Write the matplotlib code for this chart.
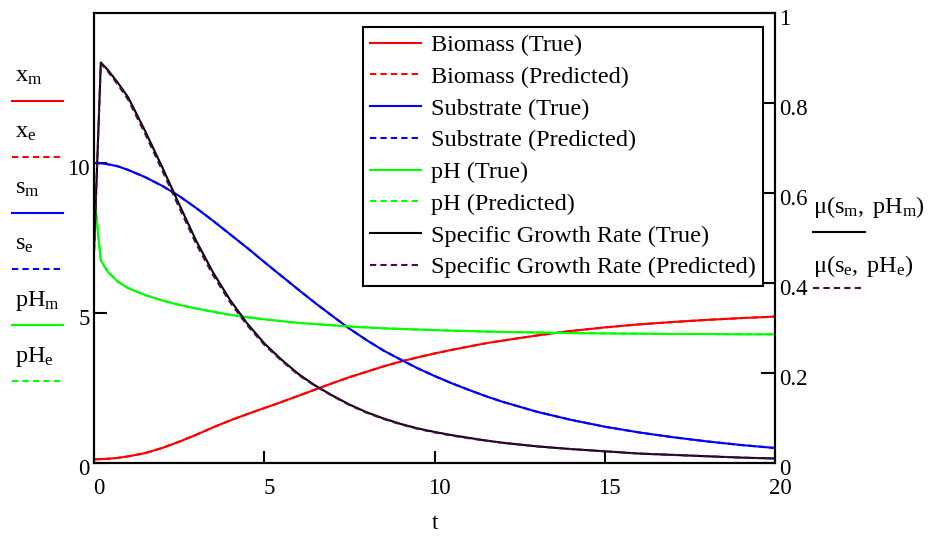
import numpy as np
import matplotlib.pyplot as plt
import matplotlib.transforms as mtransforms
from matplotlib.lines import Line2D

plt.rcParams['font.family'] = ['Liberation Serif', 'DejaVu Serif']
plt.rcParams['mathtext.default'] = 'regular'

# time grid
t = [0, 0.2, 0.4, 0.7, 1, 1.5, 2, 2.5, 3, 3.5, 4, 4.5, 5, 5.5, 6, 6.5, 7,
     7.5, 8, 8.5, 9, 9.5, 10, 10.5, 11, 11.5, 12, 13, 14, 15, 16, 17, 18, 19, 20]

biomass_true = [0.12, 0.13, 0.14, 0.17, 0.22, 0.33, 0.50, 0.71, 0.94, 1.19, 1.42,
                1.63, 1.83, 2.03, 2.24, 2.45, 2.66, 2.86, 3.04, 3.22, 3.38, 3.52,
                3.65, 3.77, 3.88, 3.99, 4.08, 4.25, 4.40, 4.52, 4.62, 4.70, 4.77,
                4.83, 4.88]
biomass_pred = [0.12, 0.13, 0.14, 0.17, 0.22, 0.33, 0.50, 0.71, 0.94, 1.19, 1.42,
                1.63, 1.83, 2.03, 2.24, 2.45, 2.66, 2.86, 3.04, 3.22, 3.38, 3.52,
                3.65, 3.77, 3.88, 3.99, 4.08, 4.25, 4.40, 4.52, 4.62, 4.70, 4.77,
                4.83, 4.88]

substrate_true = [10.0, 9.99, 9.96, 9.89, 9.77, 9.53, 9.24, 8.90, 8.50, 8.07, 7.62,
                  7.17, 6.70, 6.24, 5.78, 5.33, 4.90, 4.48, 4.10, 3.75, 3.45, 3.16,
                  2.90, 2.66, 2.44, 2.23, 2.04, 1.71, 1.44, 1.21, 1.02, 0.86, 0.72,
                  0.60, 0.50]
substrate_pred = [10.0, 9.99, 9.96, 9.89, 9.77, 9.53, 9.24, 8.90, 8.50, 8.07, 7.62,
                  7.17, 6.70, 6.24, 5.78, 5.33, 4.90, 4.48, 4.10, 3.75, 3.45, 3.16,
                  2.90, 2.66, 2.44, 2.23, 2.04, 1.71, 1.44, 1.21, 1.02, 0.86, 0.72,
                  0.60, 0.50]

ph_true = [9.00, 6.75, 6.38, 6.04, 5.83, 5.60, 5.42, 5.27, 5.15, 5.04, 4.94,
           4.86, 4.79, 4.73, 4.67, 4.63, 4.59, 4.55, 4.52, 4.49, 4.47, 4.45,
           4.43, 4.41, 4.40, 4.38, 4.37, 4.35, 4.33, 4.32, 4.31, 4.30, 4.30,
           4.29, 4.29]
ph_pred = [9.00, 6.75, 6.38, 6.04, 5.83, 5.60, 5.42, 5.27, 5.15, 5.04, 4.94,
           4.86, 4.79, 4.73, 4.67, 4.63, 4.59, 4.55, 4.52, 4.49, 4.47, 4.45,
           4.43, 4.41, 4.40, 4.38, 4.37, 4.35, 4.33, 4.32, 4.31, 4.30, 4.30,
           4.29, 4.29]

mu_true = [0.47, 0.890, 0.874, 0.845, 0.813, 0.738, 0.658, 0.575, 0.494, 0.423,
           0.362, 0.310, 0.266, 0.230, 0.198, 0.172, 0.150, 0.130, 0.113, 0.099,
           0.087, 0.077, 0.069, 0.062, 0.056, 0.050, 0.045, 0.037, 0.031, 0.026,
           0.021, 0.018, 0.015, 0.012, 0.010]
mu_pred = [0.47, 0.888, 0.871, 0.841, 0.808, 0.732, 0.651, 0.568, 0.487, 0.417,
           0.357, 0.306, 0.263, 0.228, 0.196, 0.171, 0.149, 0.129, 0.112, 0.098,
           0.086, 0.076, 0.068, 0.061, 0.055, 0.050, 0.045, 0.037, 0.031, 0.026,
           0.021, 0.018, 0.015, 0.012, 0.010]

RED = '#ff0000'
BLUE = '#0000ff'
GREEN = '#00ff00'
PURPLE = '#4a0a4a'
DASH = (0, (3, 2))
LW = 1.5
FS = 16.5

W, H = 935, 538


def px(x, y):
    return x / W, 1 - y / H


fig = plt.figure(figsize=(9.35, 5.38), dpi=100)
ax = fig.add_axes([94 / W, 1 - 463 / H, (775 - 94) / W, (463 - 13) / H])
ax2 = ax.twinx()

# left axis curves
l1, = ax.plot(t, biomass_true, color=RED, lw=LW, label='Biomass (True)')
l2, = ax.plot(t, biomass_pred, color=RED, lw=LW, ls=DASH, label='Biomass (Predicted)')
l3, = ax.plot(t, substrate_true, color=BLUE, lw=LW, label='Substrate (True)')
l4, = ax.plot(t, substrate_pred, color=BLUE, lw=LW, ls=DASH, label='Substrate (Predicted)')
l5, = ax.plot(t, ph_true, color=GREEN, lw=LW, label='pH (True)')
l6, = ax.plot(t, ph_pred, color=GREEN, lw=LW, ls=DASH, label='pH (Predicted)')

# right axis curves
l7, = ax2.plot(t, mu_true, color='black', lw=LW, label='Specific Growth Rate (True)')
l8, = ax2.plot(t, mu_pred, color=PURPLE, lw=LW, ls=DASH,
               label='Specific Growth Rate (Predicted)')

ax.set_xlim(0, 20)
ax.set_ylim(0, 15)
ax2.set_ylim(0, 1)

ax.set_xticks([0, 5, 10, 15, 20])
ax.set_xticklabels(['0', '5', '10', '15', '20'])
ax.set_yticks([0, 5, 10])
ax.set_yticklabels(['0', '5', '10'])
ax2.set_yticks([0, 0.2, 0.4, 0.6, 0.8, 1])
ax2.set_yticklabels(['0', '0.2', '0.4', '0.6', '0.8', '1'])

ax.tick_params(axis='x', direction='in', length=9, width=1.5, pad=11,
               labelsize=FS, top=False)
ax.tick_params(axis='y', direction='in', length=9, width=1.5, pad=3,
               labelsize=FS, right=False)
ax2.tick_params(axis='y', direction='in', length=10, width=1.5, pad=3,
                labelsize=FS)

for a in (ax, ax2):
    for s in a.spines.values():
        s.set_linewidth(1.5)

ax.set_xlabel('t', fontsize=FS, labelpad=10)

# nudge tick labels the way the original renderer places them
dx = mtransforms.ScaledTranslation(5 / 100, 0, fig.dpi_scale_trans)
dy = mtransforms.ScaledTranslation(0, -4 / 100, fig.dpi_scale_trans)
for lab in ax.get_xticklabels():
    lab.set_transform(lab.get_transform() + dx)
for lab in ax.get_yticklabels() + ax2.get_yticklabels():
    lab.set_transform(lab.get_transform() + dy)

leg = ax2.legend(handles=[l1, l2, l3, l4, l5, l6, l7, l8],
                 loc='upper right', bbox_to_anchor=(0.982, 0.969),
                 borderaxespad=0, fontsize=17.5, handlelength=2.1,
                 handletextpad=0.38, labelspacing=0.40, borderpad=0.3,
                 fancybox=False, framealpha=1, edgecolor='black')
leg.get_frame().set_linewidth(1.5)

# left-side trace key
keys = [
    (r'$x_m$', RED, '-', 82, 100.7),
    (r'$x_e$', RED, DASH, 138, 156.7),
    (r'$s_m$', BLUE, '-', 194, 212.7),
    (r'$s_e$', BLUE, DASH, 250, 268.7),
    (r'$pH_m$', GREEN, '-', 306, 324.7),
    (r'$pH_e$', GREEN, DASH, 362, 380.7),
]
for txt, col, ls, yb, yl in keys:
    x0, y0 = px(15, yb)
    fig.text(x0, y0, txt, fontsize=17.5, va='baseline', ha='left')
    xa, ya = px(12, yl)
    xb, _ = px(63, yl)
    fig.add_artist(Line2D([xa, xb], [ya, ya], color=col, lw=LW, ls=ls,
                          transform=fig.transFigure))

# right-side trace key
x0, y0 = px(813, 213)
fig.text(x0, y0, r'$μ(s_m,\,pH_m)$', fontsize=17.5, va='baseline', ha='left')
xa, ya = px(813, 232)
xb, _ = px(865, 232)
fig.add_artist(Line2D([xa, xb], [ya, ya], color='black', lw=LW,
                      transform=fig.transFigure))
x0, y0 = px(813, 272)
fig.text(x0, y0, r'$μ(s_e,\,pH_e)$', fontsize=17.5, va='baseline', ha='left')
xa, ya = px(813, 288)
xb, _ = px(865, 288)
fig.add_artist(Line2D([xa, xb], [ya, ya], color=PURPLE, lw=LW, ls=DASH,
                      transform=fig.transFigure))

fig.savefig('out.png', dpi=100)
